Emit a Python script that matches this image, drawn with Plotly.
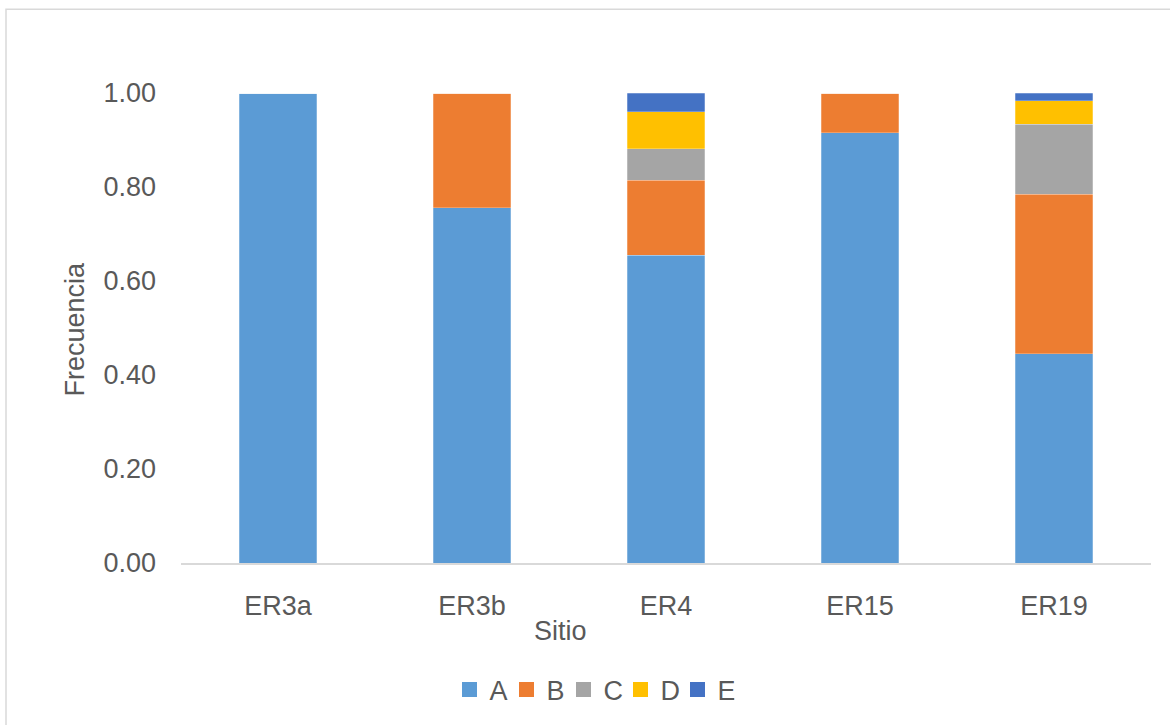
import plotly.graph_objects as go

# Relative frequency of each class (A-E) per sampling site
sites = ["ER3a", "ER3b", "ER4", "ER15", "ER19"]
freq_a = [1.000, 0.756, 0.655, 0.915, 0.445]
freq_b = [0.000, 0.244, 0.159, 0.085, 0.340]
freq_c = [0.000, 0.000, 0.067, 0.000, 0.148]
freq_d = [0.000, 0.000, 0.079, 0.000, 0.051]
freq_e = [0.000, 0.000, 0.040, 0.000, 0.016]
y_ticks = [0.0, 0.2, 0.4, 0.6, 0.8, 1.0]

series = [
    ("A", freq_a, "#5B9BD5"),
    ("B", freq_b, "#ED7D31"),
    ("C", freq_c, "#A5A5A5"),
    ("D", freq_d, "#FFC000"),
    ("E", freq_e, "#4472C4"),
]

W, H = 1170, 725
ML, MR, MT, MB = 181, 19, 93, 161
PW, PH = W - ML - MR, H - MT - MB


def px_x(px):
    return (px - ML) / PW


def px_y(py):
    return (H - MB - py) / PH


TXT = "#595959"
FONT = "Liberation Sans, Arial, sans-serif"
FS = 27

fig = go.Figure()
for name, vals, color in series:
    fig.add_trace(go.Bar(
        x=sites, y=vals, name=name, showlegend=False, legendgroup=name,
        marker=dict(color=color, line=dict(color="rgba(255,255,255,0.5)", width=0.5)),
    ))
# legend keys: larger square swatches
for name, vals, color in series:
    fig.add_trace(go.Scatter(
        x=[None], y=[None], mode="markers", name=name, legendgroup=name,
        marker=dict(symbol="square", size=15, color=color),
        showlegend=True,
    ))

fig.update_layout(
    width=W, height=H,
    barmode="stack", bargap=0.6,
    paper_bgcolor="white", plot_bgcolor="white",
    margin=dict(l=ML, r=MR, t=MT, b=MB, pad=0),
    font=dict(family=FONT, size=FS, color=TXT),
    legend=dict(
        orientation="h", x=px_x(592), xanchor="center",
        y=px_y(690), yanchor="middle",
        font=dict(size=FS, color=TXT),
        traceorder="normal", itemwidth=30,
        entrywidth=12, entrywidthmode="pixels",
    ),
    xaxis=dict(
        showgrid=False, showline=True, linecolor="#D9D9D9", linewidth=1.5,
        ticks="", ticklabelstandoff=18,
        tickfont=dict(size=FS, color=TXT),
    ),
    yaxis=dict(
        range=[0, 1.0], tickvals=y_ticks, tickformat=".2f",
        showgrid=False, showline=False, zeroline=False,
        ticks="", ticklabelstandoff=24,
        tickfont=dict(size=FS, color=TXT),
    ),
    annotations=[
        dict(text="Sitio", xref="paper", yref="paper",
             x=px_x(560), y=px_y(632), xanchor="center", yanchor="middle",
             showarrow=False, font=dict(size=FS, color=TXT)),
        dict(text="Frecuencia", xref="paper", yref="paper",
             x=px_x(75), y=px_y(330), xanchor="center", yanchor="middle",
             textangle=-90, showarrow=False, font=dict(size=FS, color=TXT)),
    ],
    shapes=[
        dict(type="rect", xref="paper", yref="paper",
             x0=px_x(6), x1=px_x(1180), y0=px_y(740), y1=px_y(9),
             line=dict(color="#D9D9D9", width=1.5), fillcolor="rgba(0,0,0,0)",
             layer="below"),
    ],
)

fig.write_html("out.html")
